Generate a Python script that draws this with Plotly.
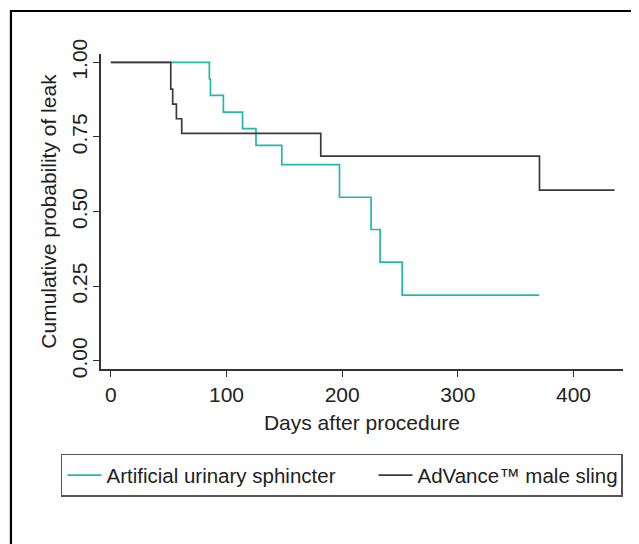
import plotly.graph_objects as go

# Kaplan-Meier step data
asu_days = [0, 85.2, 86.1, 97.3, 113.9, 125.5, 147.8, 197.7, 225.0, 232.8, 251.9, 370.3]
asu_prob = [1.0, 0.944, 0.889, 0.833, 0.778, 0.722, 0.657, 0.548, 0.440, 0.331, 0.220, 0.220]

sling_days = [0, 51.8, 53.5, 56.7, 61.3, 181.5, 370.6, 435.5]
sling_prob = [1.0, 0.910, 0.860, 0.811, 0.762, 0.686, 0.572, 0.572]

x_ticks = [0, 100, 200, 300, 400]
y_ticks = [0.0, 0.25, 0.50, 0.75, 1.00]
y_tick_labels = ["0.00", "0.25", "0.50", "0.75", "1.00"]

series_names = ["Artificial urinary sphincter", "AdVance\u2122 male sling"]
colors = ["#22b8ab", "#3a3a3a"]

FONT = "Liberation Sans, Arial, sans-serif"
FS = 21
LFS = 20.5

# page body has an 8px margin; lay out in figure coordinates = reference - 8
OFF = 8
W, H = 639 - OFF, 544 - OFF
ml, mt = 101 - OFF, 54 - OFF
plot_right, plot_bottom = 622.7 - OFF, 369 - OFF
mr = W - plot_right
mb = H - plot_bottom
pw = plot_right - ml
ph = plot_bottom - mt

def px_x(p):
    return (p - OFF - ml) / pw

def px_y(p):
    return (plot_bottom - (p - OFF)) / ph

fig = go.Figure()
fig.add_trace(go.Scatter(x=asu_days, y=asu_prob, mode="lines", name=series_names[0],
                         legendwidth=262,
                         line=dict(color=colors[0], width=1.7, shape="hv")))
fig.add_trace(go.Scatter(x=sling_days, y=sling_prob, mode="lines", name=series_names[1],
                         legendwidth=199,
                         line=dict(color=colors[1], width=1.7, shape="hv")))

fig.update_layout(
    template="none",
    width=W, height=H,
    margin=dict(l=ml, r=mr, t=mt, b=mb, pad=0),
    paper_bgcolor="white", plot_bgcolor="white",
    font=dict(family=FONT, size=FS, color="#222222"),
    showlegend=True,
    legend=dict(
        orientation="h",
        x=px_x(61), y=px_y(453.8), xanchor="left", yanchor="top",
        bordercolor="#555555", borderwidth=1.5,
        bgcolor="white",
        font=dict(family=FONT, size=LFS, color="#222222"),
        itemwidth=34, tracegroupgap=0,
    ),
    xaxis=dict(
        range=[-8.5, 442.8], tickvals=x_ticks, ticks="outside", ticklen=6,
        tickwidth=1.3, tickcolor="#333333",
        showline=True, linecolor="#333333", linewidth=1.5,
        showgrid=False, zeroline=False, automargin=False,
        tickfont=dict(size=FS),
        title=dict(text="Days after procedure", font=dict(size=FS), standoff=10),
    ),
    yaxis=dict(
        range=[-0.0271, 1.0278], tickvals=y_ticks, ticktext=y_tick_labels,
        tickangle=-90, ticks="outside", ticklen=6, ticklabelstandoff=-2,
        tickwidth=1.3, tickcolor="#333333",
        showline=True, linecolor="#333333", linewidth=1.5,
        showgrid=False, zeroline=False, automargin=False,
        tickfont=dict(size=FS),
        title=dict(text="Cumulative probability of leak", font=dict(size=FS), standoff=5),
    ),
    shapes=[dict(type="rect", xref="paper", yref="paper",
                 x0=px_x(11), y0=-1.0, x1=1.5, y1=px_y(11),
                 line=dict(color="black", width=2.2), fillcolor="rgba(0,0,0,0)",
                 layer="below")],
)

fig.write_html("out.html")
